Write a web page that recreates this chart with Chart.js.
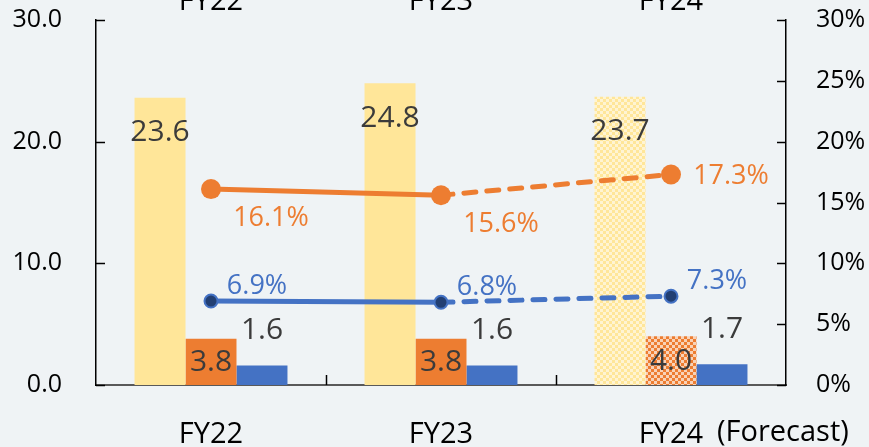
<!DOCTYPE html>
<html>
<head>
<meta charset="utf-8">
<script src="https://cdn.jsdelivr.net/npm/chart.js@4.4.1/dist/chart.umd.min.js"></script>
<style>
  html, body { margin: 0; padding: 0; background: #eff3f5; }
  #wrap { width: 869px; height: 447px; }
</style>
</head>
<body>
<div id="wrap"><canvas id="salesChart" width="869" height="447"></canvas></div>
<script>
const years = ['FY22', 'FY23', 'FY24'];
const netSales = [23.6, 24.8, 23.7];
const grossProfit = [3.8, 3.8, 4.0];
const operatingIncome = [1.6, 1.6, 1.7];
const grossMargin = [16.1, 15.6, 17.3];
const operatingMargin = [6.9, 6.8, 7.3];
const leftTicks = [0, 10, 20, 30];
const rightTicks = [0, 5, 10, 15, 20, 25, 30];

const FONT = '"Open Sans", "Noto Sans", sans-serif';
const YELLOW = '#ffe699';
const ORANGE = '#ed7d31';
const BLUE = '#4472c4';
const TEXT = '#3b3b3b';

// small checkerboard fill used for the forecast year
function checker(c1, c2) {
    const cv = document.createElement('canvas');
    cv.width = 6; cv.height = 6;
    const g = cv.getContext('2d');
    g.fillStyle = c1; g.fillRect(0, 0, 6, 6);
    g.fillStyle = c2; g.fillRect(0, 0, 3, 3); g.fillRect(3, 3, 3, 3);
    return g.createPattern(cv, 'repeat');
}

const forecastDash = ctx => ctx.p0DataIndex === 1 ? [12, 11] : undefined;

// keep the axes from reserving room for half a tick label
const noPad = s => { s.paddingTop = 0; s.paddingBottom = 0; s.paddingLeft = 0; s.paddingRight = 0; };

const overlay = {
    id: 'overlay',
    afterDatasetsDraw(chart) {
        const ctx = chart.ctx;
        const x = chart.scales.x, y = chart.scales.y, yr = chart.scales.y1;
        const area = chart.chartArea;
        ctx.save();

        // inward tick marks
        ctx.strokeStyle = '#000'; ctx.lineWidth = 1.5;
        leftTicks.forEach(v => {
            const py = Math.round(y.getPixelForValue(v)) + 0.5;
            ctx.beginPath(); ctx.moveTo(area.left, py); ctx.lineTo(area.left + 9, py); ctx.stroke();
        });
        rightTicks.forEach(v => {
            const py = Math.round(yr.getPixelForValue(v)) + 0.5;
            ctx.beginPath(); ctx.moveTo(area.right - 9, py); ctx.lineTo(area.right, py); ctx.stroke();
        });
        for (let i = 1; i < years.length; i++) {
            const px = Math.round((x.getPixelForValue(i - 1) + x.getPixelForValue(i)) / 2) + 0.5;
            ctx.beginPath(); ctx.moveTo(px, area.bottom - 10); ctx.lineTo(px, area.bottom); ctx.stroke();
        }

        // bar values
        ctx.textAlign = 'center'; ctx.textBaseline = 'middle';
        ctx.font = '30px ' + FONT; ctx.fillStyle = TEXT;
        chart.getDatasetMeta(0).data.forEach((b, i) => ctx.fillText(netSales[i].toFixed(1), b.x, b.y + 35));
        chart.getDatasetMeta(1).data.forEach((b, i) => ctx.fillText(grossProfit[i].toFixed(1), b.x, (b.y + b.base) / 2 + 1));
        chart.getDatasetMeta(2).data.forEach((b, i) => ctx.fillText(operatingIncome[i].toFixed(1), b.x, b.y - 35));

        // margin values
        ctx.font = '27px ' + FONT;
        ctx.fillStyle = ORANGE;
        chart.getDatasetMeta(3).data.forEach((p, i) => {
            const dy = i === 2 ? 2 : 29;
            ctx.fillText(grossMargin[i].toFixed(1) + '%', p.x + 60, p.y + dy);
        });
        ctx.fillStyle = BLUE;
        chart.getDatasetMeta(4).data.forEach((p, i) => {
            ctx.fillText(operatingMargin[i].toFixed(1) + '%', p.x + 46, p.y - 15);
        });

        // year labels along the top edge, and the forecast note
        ctx.fillStyle = '#000';
        ctx.font = '29px ' + FONT;
        ctx.textBaseline = 'alphabetic';
        years.forEach((yrLabel, i) => ctx.fillText(yrLabel, x.getPixelForValue(i), 10));
        ctx.textAlign = 'left';
        ctx.fillText('(Forecast)', x.getPixelForValue(2) + 46, 441);
        ctx.restore();
    }
};

new Chart(document.getElementById('salesChart'), {
    data: {
        labels: years,
        datasets: [
            {
                type: 'bar', data: netSales, yAxisID: 'y', order: 2,
                backgroundColor: [YELLOW, YELLOW, checker('#fff4d2', YELLOW)]
            },
            {
                type: 'bar', data: grossProfit, yAxisID: 'y', order: 2,
                backgroundColor: [ORANGE, ORANGE, checker('#f9d2b6', ORANGE)]
            },
            {
                type: 'bar', data: operatingIncome, yAxisID: 'y', order: 2,
                backgroundColor: BLUE
            },
            {
                type: 'line', data: grossMargin, yAxisID: 'y1', order: 1,
                borderColor: ORANGE, borderWidth: 5, borderCapStyle: 'round',
                pointRadius: 10, pointBackgroundColor: ORANGE, pointBorderColor: ORANGE, pointBorderWidth: 0,
                segment: { borderDash: forecastDash }
            },
            {
                type: 'line', data: operatingMargin, yAxisID: 'y1', order: 0,
                borderColor: BLUE, borderWidth: 5, borderCapStyle: 'round',
                pointRadius: 6.5, pointBackgroundColor: '#223f73', pointBorderColor: BLUE, pointBorderWidth: 2,
                segment: { borderDash: forecastDash }
            }
        ]
    },
    options: {
        responsive: false,
        animation: false,
        layout: { padding: { top: 20, left: 0, right: 0, bottom: 0 } },
        datasets: { bar: { categoryPercentage: 0.665, barPercentage: 1.0 } },
        plugins: { legend: { display: false }, tooltip: { enabled: false } },
        scales: {
            x: {
                grid: { display: false },
                border: { color: '#595959', width: 2 },
                ticks: { color: '#000', font: { family: FONT, size: 29 }, padding: 24 },
                afterFit: s => { noPad(s); s.height = 62; }
            },
            y: {
                position: 'left', min: 0, max: 30,
                afterBuildTicks: s => { s.ticks = leftTicks.map(v => ({ value: v })); },
                grid: { display: false },
                border: { color: '#000', width: 1.5 },
                ticks: { color: '#000', font: { family: FONT, size: 25 }, padding: 26, callback: v => v.toFixed(1) },
                afterFit: s => { noPad(s); s.width = 96; }
            },
            y1: {
                position: 'right', min: 0, max: 30,
                afterBuildTicks: s => { s.ticks = rightTicks.map(v => ({ value: v })); },
                grid: { display: false },
                border: { color: '#000', width: 1.5 },
                ticks: { color: '#000', font: { family: FONT, size: 25 }, padding: 22, callback: v => v + '%' },
                afterFit: s => { noPad(s); s.width = 83; }
            }
        }
    },
    plugins: [overlay]
});
</script>
</body>
</html>
